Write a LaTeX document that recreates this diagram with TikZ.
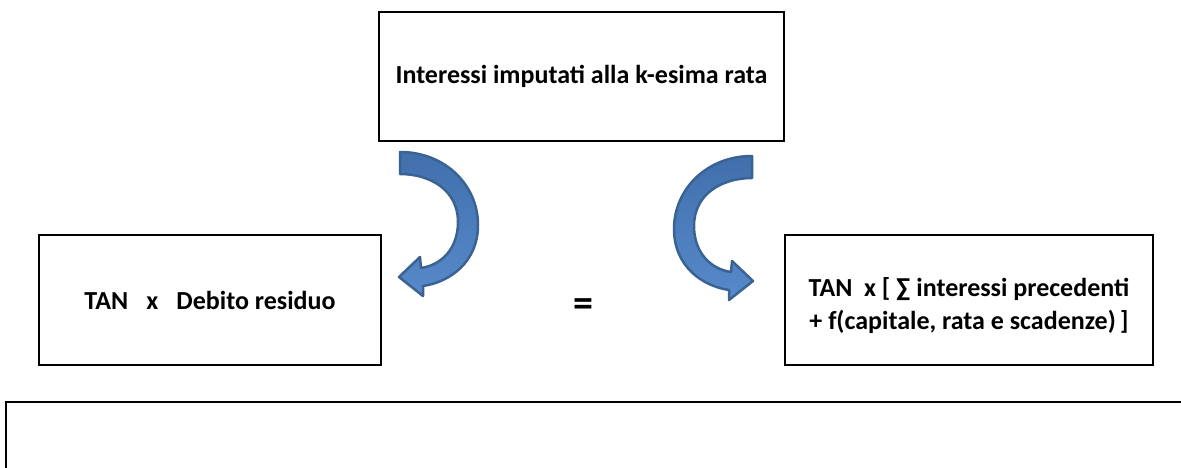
\documentclass[tikz,border=0pt]{standalone}
\usepackage{fontspec}
\setmainfont{Carlito}
\definecolor{arrowedge}{HTML}{3A6394}
\definecolor{arrowtop}{HTML}{416FAC}
\definecolor{arrowbottom}{HTML}{578ACB}
\begin{document}
\begin{tikzpicture}[x=1pt, y=-1pt,
  boxtext/.style={inner sep=0pt, align=center,
    font=\fontsize{26}{33}\selectfont\bfseries},
  box/.style={boxtext, draw, line width=2pt},
  bluearrow/.style={draw=arrowedge, line width=2.5pt, line join=round,
    top color=arrowtop, bottom color=arrowbottom}]
\useasboundingbox (0,0) rectangle (1181,468);
% the three boxes
\node[box, minimum width=405, minimum height=129] (rata) at (581.5,76.5)
  {Interessi imputati alla k-esima rata};
\node[box, minimum width=342, minimum height=130] (debito) at (210,300)
  {TAN\hspace{0.7em}x\hspace{0.7em}Debito residuo};
\node[box, minimum width=368, minimum height=130] (somma) at (969,300) {};
\node[boxtext] (sommatesto) at (969,306)
  {TAN\hspace{0.45em}x [ ∑ interessi precedenti\\ + f(capitale, rata e scadenze)\,]};
\node[font=\fontsize{40}{40}\selectfont\bfseries] (uguale) at (583,308) {=};
% bent arrows, the second one mirrored
\foreach \s/\dx/\dy in {1/0/0, -1/1152/4}
  \draw[bluearrow, shift={(\dx,\dy)}, xscale=\s]
    (400,152) .. controls (445,152) and (478,185) .. (478,225)
    .. controls (478,262) and (450,282) .. (423,286)
    -- (423,296) -- (399,277) -- (420,257) -- (421,268)
    .. controls (442,265) and (458,248) .. (458,222)
    .. controls (458,190) and (430,174) .. (400,174) -- cycle;
% open box at the bottom
\draw[line width=2pt] (1181,402) -| (6,468);
\end{tikzpicture}
\end{document}
